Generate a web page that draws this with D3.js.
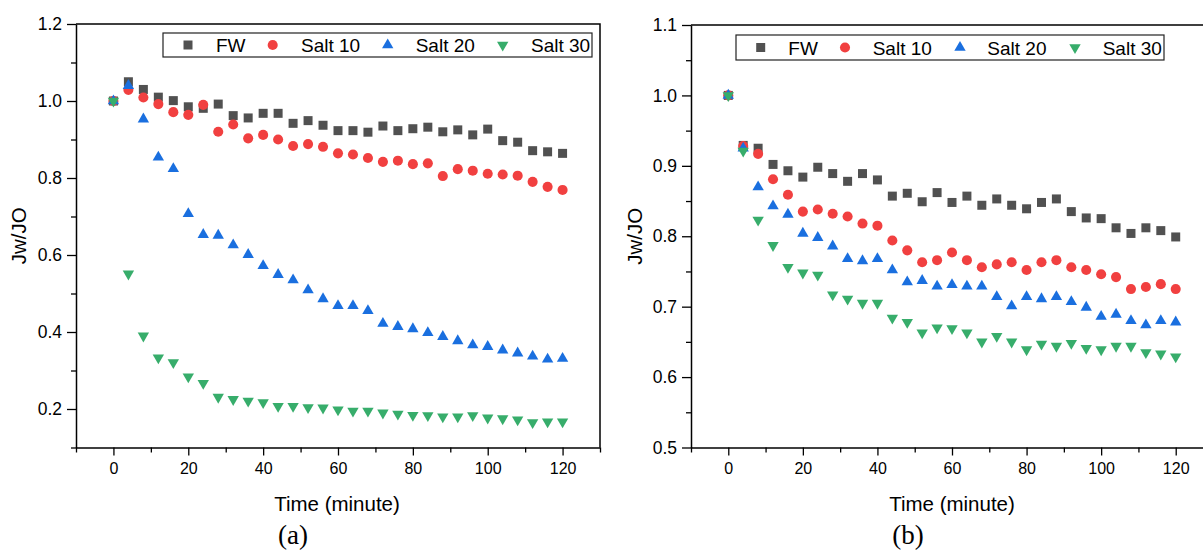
<!DOCTYPE html>
<html><head><meta charset="utf-8">
<script src="https://cdn.jsdelivr.net/npm/d3@7"></script>
<style>body{margin:0;background:#fff} text{font-family:Arial,"Liberation Sans",sans-serif;fill:#000}</style>
</head><body>
<svg id="c" width="1203" height="550"></svg>
<script>
// ---- data ----
const times = [0,4,8,12,16,20,24,28,32,36,40,44,48,52,56,60,64,68,72,76,80,84,88,92,96,100,104,108,112,116,120];
const seriesNames = ["FW","Salt 10","Salt 20","Salt 30"];

// panel (a)
const aFW = [1.000,1.050,1.030,1.010,1.001,0.985,0.981,0.992,0.962,0.956,0.968,0.968,0.942,0.949,0.937,0.923,0.923,0.919,0.935,0.923,0.928,0.932,0.920,0.925,0.912,0.927,0.897,0.893,0.871,0.868,0.864];
const aS10 = [1.000,1.029,1.009,0.992,0.971,0.964,0.990,0.920,0.939,0.903,0.912,0.900,0.883,0.888,0.881,0.864,0.861,0.852,0.842,0.845,0.836,0.838,0.805,0.823,0.819,0.811,0.809,0.806,0.790,0.777,0.769];
const aS20 = [1.000,1.040,0.953,0.854,0.824,0.707,0.653,0.651,0.626,0.601,0.572,0.549,0.535,0.509,0.486,0.468,0.468,0.455,0.422,0.414,0.408,0.398,0.388,0.377,0.366,0.362,0.353,0.345,0.337,0.329,0.331];
const aS30 = [1.000,0.551,0.390,0.333,0.321,0.284,0.267,0.231,0.225,0.221,0.217,0.207,0.207,0.204,0.203,0.198,0.195,0.195,0.190,0.187,0.184,0.183,0.180,0.180,0.183,0.177,0.175,0.172,0.165,0.167,0.167];

// panel (b)
const bFW = [1.000,0.929,0.925,0.902,0.893,0.884,0.898,0.889,0.878,0.889,0.880,0.857,0.861,0.849,0.862,0.848,0.857,0.844,0.853,0.844,0.839,0.848,0.853,0.835,0.826,0.825,0.812,0.804,0.812,0.808,0.799];
const bS10 = [1.000,0.928,0.917,0.881,0.859,0.835,0.838,0.832,0.828,0.818,0.815,0.794,0.780,0.763,0.766,0.777,0.766,0.756,0.760,0.763,0.752,0.763,0.766,0.756,0.752,0.746,0.742,0.725,0.728,0.732,0.725];
const bS20 = [1.000,0.925,0.870,0.843,0.831,0.804,0.798,0.786,0.768,0.765,0.768,0.752,0.735,0.737,0.729,0.731,0.729,0.729,0.714,0.701,0.714,0.711,0.714,0.707,0.699,0.686,0.689,0.680,0.674,0.680,0.678];
const bS30 = [1.000,0.921,0.823,0.787,0.756,0.748,0.745,0.717,0.711,0.705,0.705,0.684,0.678,0.663,0.670,0.669,0.663,0.650,0.658,0.650,0.639,0.647,0.644,0.648,0.641,0.639,0.644,0.644,0.635,0.633,0.629];

const xMajor = [0,20,40,60,80,100,120];
const xMinor = [-10,10,30,50,70,90,110,130];
const aYMajor = [0.2,0.4,0.6,0.8,1.0,1.2];
const aYMinor = [0.1,0.3,0.5,0.7,0.9,1.1];
const bYMajor = [0.5,0.6,0.7,0.8,0.9,1.0,1.1];
const bYMinor = [0.55,0.65,0.75,0.85,0.95,1.05];

const xTitle = "Time (minute)";
const yTitle = "Jw/JO";

// ---- styles ----
const colors = ["#515151","#F14040","#1A6FDF","#37AD6B"];
const symTypes = [d3.symbolSquare, d3.symbolCircle, d3.symbolTriangle, d3.symbolTriangle];
const symSizes = [81, 80, 56, 56];
const symRot = [0,0,0,180];

const svg = d3.select("#c");

function panel(cfg){
  const g = svg.append("g");
  const x = d3.scaleLinear().domain([-10,130]).range([cfg.left, cfg.right]);
  const y = d3.scaleLinear().domain(cfg.yDomain).range([cfg.bottom, cfg.top]);

  // x axis
  const xa = g.append("g").attr("transform",`translate(0,${cfg.bottom})`)
    .call(d3.axisBottom(x).tickValues(xMajor).tickSize(8).tickSizeOuter(0).tickPadding(7).tickFormat(d3.format("d")));
  xa.select(".domain").attr("stroke-width",1.5);
  xa.selectAll(".tick line").attr("stroke-width",1.3);
  xa.selectAll("text").style("font-size","16px").attr("fill","#000");
  g.append("g").attr("transform",`translate(0,${cfg.bottom})`)
    .call(d3.axisBottom(x).tickValues(xMinor).tickSize(5).tickFormat(""))
    .call(s=>s.select(".domain").remove())
    .selectAll(".tick line").attr("stroke-width",1.3);

  // y axis
  const ya = g.append("g").attr("transform",`translate(${cfg.left},0)`)
    .call(d3.axisLeft(y).tickValues(cfg.yMajor).tickSize(9).tickSizeOuter(0).tickPadding(5).tickFormat(d3.format(".1f")));
  ya.select(".domain").attr("stroke-width",1.5);
  ya.selectAll(".tick line").attr("stroke-width",1.3);
  ya.selectAll("text").style("font-size","17.5px").attr("fill","#000");
  g.append("g").attr("transform",`translate(${cfg.left},0)`)
    .call(d3.axisLeft(y).tickValues(cfg.yMinor).tickSize(5).tickFormat(""))
    .call(s=>s.select(".domain").remove())
    .selectAll(".tick line").attr("stroke-width",1.3);

  // top and right frame
  g.append("path").attr("d",`M${cfg.left},${cfg.top}H${cfg.right}V${cfg.bottom}`)
    .attr("fill","none").attr("stroke","#000").attr("stroke-width",1.5);

  // data
  cfg.series.forEach((vals,i)=>{
    const sym = d3.symbol().type(symTypes[i]).size(symSizes[i]);
    g.append("g").selectAll("path").data(times.map((t,j)=>({t,v:vals[j]}))).join("path")
      .attr("d",sym)
      .attr("transform",d=>`translate(${x(d.t)},${y(d.v)}) rotate(${symRot[i]})`)
      .attr("fill",colors[i]);
  });

  // titles
  g.append("text").attr("x",(cfg.left+ (cfg.left+524))/2 - 1).attr("y",511)
    .attr("text-anchor","middle").style("font-size","20.5px").text(xTitle);
  g.append("text").attr("transform",`translate(${cfg.yTitleX},${(cfg.top+cfg.bottom)/2}) rotate(-90)`)
    .attr("text-anchor","middle").style("font-size","20.5px").text(yTitle);
  g.append("text").attr("x",cfg.left+217).attr("y",544).attr("text-anchor","middle")
    .style("font-family","'Liberation Serif','Times New Roman',serif").style("font-size","27px").text(cfg.label);

  // legend
  const L = cfg.legend;
  g.append("rect").attr("x",L.x0).attr("y",L.y0).attr("width",L.x1-L.x0).attr("height",L.y1-L.y0)
    .attr("fill","#fff").attr("stroke","#222").attr("stroke-width",1.2);
  seriesNames.forEach((name,i)=>{
    const sym = d3.symbol().type(symTypes[i]).size(symSizes[i]);
    const cy = (L.y0+L.y1)/2;
    g.append("path").attr("d",sym)
      .attr("transform",`translate(${L.mx[i]},${cy}) rotate(${symRot[i]})`).attr("fill",colors[i]);
    g.append("text").attr("x",L.tx[i]).attr("y",cy+7).style("font-size","19px").text(name);
  });
}

panel({left:76,right:600,top:24,bottom:447.5,yDomain:[0.1,1.2],yMajor:aYMajor,yMinor:aYMinor,
  series:[aFW,aS10,aS20,aS30],yTitleX:26,label:"(a)",
  legend:{x0:163,y0:33,x1:592,y1:57,mx:[188,272.7,387.7,502.7],tx:[216,301,415.7,531]}});
panel({left:691,right:1213,top:25,bottom:447.5,yDomain:[0.5,1.1],yMajor:bYMajor,yMinor:bYMinor,
  series:[bFW,bS10,bS20,bS30],yTitleX:642,label:"(b)",
  legend:{x0:736,y0:35,x1:1164,y1:60,mx:[760.7,845,960,1075],tx:[788.3,872.7,987.3,1102.7]}});
</script>
</body></html>
